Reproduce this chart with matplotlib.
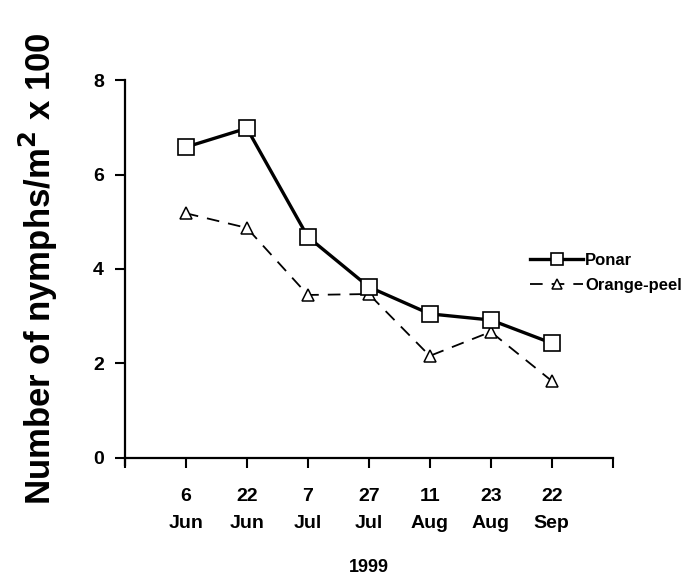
import numpy as np
from matplotlib import pyplot as plt
from matplotlib import rcParams

rcParams.update({
    "font.family": "Liberation Sans",
    "font.weight": "bold",
    "axes.labelweight": "bold",
})

dates = ["6\nJun", "22\nJun", "7\nJul", "27\nJul", "11\nAug", "23\nAug", "22\nSep"]
ponar = [6.58, 6.98, 4.68, 3.62, 3.05, 2.92, 2.43]
orange_peel = [5.18, 4.87, 3.45, 3.47, 2.16, 2.67, 1.63]

x = np.arange(1, len(dates) + 1)

fig = plt.figure(figsize=(6.9, 5.76), dpi=100)
ax = fig.add_axes([0.181, 0.205, 0.707, 0.656])

ax.plot(x, ponar, color="black", linewidth=2.4, marker="s", markersize=11,
        markerfacecolor="white", markeredgecolor="black", markeredgewidth=1.2,
        label="Ponar", zorder=3)
ax.plot(x, orange_peel, color="black", linewidth=1.3, linestyle=(0, (7, 5)),
        marker="^", markersize=9, markerfacecolor="white",
        markeredgecolor="black", markeredgewidth=1.1,
        label="Orange-peel", zorder=2)

ax.set_xlim(0, 8)
ax.set_ylim(0, 8)
ax.set_xticks(np.arange(0, 9))
ax.set_xticklabels([""] + dates + [""], linespacing=1.7)
ax.set_yticks([0, 2, 4, 6, 8])

for side in ["top", "right"]:
    ax.spines[side].set_visible(False)
ax.spines["left"].set_linewidth(1.6)
ax.spines["bottom"].set_linewidth(1.6)
ax.spines["left"].set_bounds(-0.15, 8)

ax.tick_params(axis="both", direction="out", width=1.5, length=7, labelsize=14)
ax.tick_params(axis="x", pad=15)
ax.tick_params(axis="y", pad=8)

ax.set_xlabel("1999", fontsize=13, labelpad=20)
ax.set_ylabel("Number of nymphs/m$^\\mathbf{2}$ x 100", fontsize=25,
              labelpad=24)

leg = ax.legend(loc="center left", bbox_to_anchor=(0.80, 0.49), frameon=False,
                fontsize=12, handlelength=3.2, handletextpad=0.1,
                labelspacing=0.6, markerscale=0.75)

plt.savefig("out.png", dpi=100)
